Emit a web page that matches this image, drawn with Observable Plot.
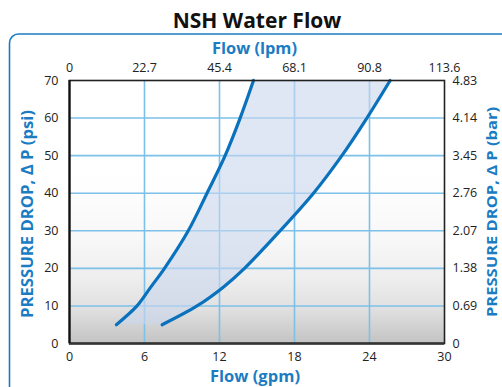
<!DOCTYPE html>
<html>
<head>
<meta charset="utf-8">
<script src="https://cdn.jsdelivr.net/npm/d3@7"></script>
<script src="https://cdn.jsdelivr.net/npm/@observablehq/plot@0.6"></script>
<style>
  html, body { margin: 0; padding: 0; background: #fff; }
  #chart svg { display: block; }
</style>
</head>
<body>
<div id="chart"></div>
<script>
// Pressure levels (psi) at which the curves were read
const psiLevels = [5, 10, 15, 20, 30, 40, 50, 60, 70];
// Flow (gpm) of the left (lower-bound) curve at each psi level
const leftGpm  = [3.75, 5.4, 6.5, 7.6, 9.5, 11.0, 12.45, 13.65, 14.72];
// Flow (gpm) of the right (upper-bound) curve at each psi level
const rightGpm = [7.41, 10.2, 12.3, 14.0, 16.85, 19.52, 21.79, 23.79, 25.65];

// Axis ticks
const gpmTicks = [0, 6, 12, 18, 24, 30];
const lpmLabels = ["0", "22.7", "45.4", "68.1", "90.8", "113.6"];
const psiTicks = [0, 10, 20, 30, 40, 50, 60, 70];
const barLabels = ["0", "0.69", "1.38", "2.07", "2.76", "3.45", "4.14", "4.83"];

const title = "NSH Water Flow";
const topLabel = "Flow (lpm)";
const bottomLabel = "Flow (gpm)";
const leftLabel = "PRESSURE DROP, \u0394 P (psi)";
const rightLabel = "PRESSURE DROP, \u0394 P (bar)";

const rows = psiLevels.map((p, i) => ({psi: p, left: leftGpm[i], right: rightGpm[i]}));

const BLUE = "#0a72bd";
const LABEL_BLUE = "#1b7cc4";
const GRID = "#7dc0e9";
const FONT = "'Open Sans', 'Noto Sans', sans-serif";

const W = 502, H = 387;
const mL = 69, mR = 58, mT = 80, mB = 44;

const chart = Plot.plot({
  width: W,
  height: H,
  marginLeft: mL,
  marginRight: mR,
  marginTop: mT,
  marginBottom: mB,
  style: {fontFamily: FONT, fontSize: "12.5px", color: "#222", background: "transparent"},
  x: {domain: [0, 30]},
  y: {domain: [0, 70]},
  marks: [
    Plot.frame({fill: "url(#bggrad)", stroke: "none"}),
    Plot.gridX(gpmTicks.slice(1, -1), {stroke: GRID, strokeOpacity: 1, strokeWidth: 1.6}),
    Plot.gridY(psiTicks.slice(1, -1), {stroke: GRID, strokeOpacity: 1, strokeWidth: 1.6}),
    Plot.areaX(rows, {y: "psi", x1: "left", x2: "right", fill: "#c9d7ef", fillOpacity: 0.6, curve: "catmull-rom"}),
    Plot.line(rows, {x: "left", y: "psi", stroke: BLUE, strokeWidth: 3.2, curve: "catmull-rom"}),
    Plot.line(rows, {x: "right", y: "psi", stroke: BLUE, strokeWidth: 3.2, curve: "catmull-rom"}),
    Plot.frame({stroke: "#222", strokeWidth: 1.6}),
    Plot.ruleY([0], {stroke: "#333", strokeWidth: 2.5}),
    Plot.ruleX([0], {stroke: "#111", strokeWidth: 2.2}),
    Plot.axisX(gpmTicks, {anchor: "bottom", tickSize: 0, tickPadding: 9, label: null}),
    Plot.axisX(gpmTicks, {anchor: "top", tickSize: 0, tickPadding: 9, label: null,
      tickFormat: (d) => lpmLabels[gpmTicks.indexOf(d)]}),
    Plot.axisY(psiTicks, {anchor: "left", tickSize: 0, tickPadding: 11, label: null}),
    Plot.axisY(psiTicks, {anchor: "right", tickSize: 0, tickPadding: 8, label: null,
      tickFormat: (d) => barLabels[psiTicks.indexOf(d)]})
  ]
});

const svg = d3.select(chart);
// gradient definition for the plot background
const defs = svg.insert("defs", ":first-child");
const grad = defs.append("linearGradient").attr("id", "bggrad")
  .attr("x1", 0).attr("y1", 0).attr("x2", 0).attr("y2", 1);
[[0, "#ffffff"], [0.35, "#ffffff"], [0.6, "#f8f8f8"], [0.75, "#eeeeee"], [0.87, "#e0e0e0"], [1, "#c3c3c3"]]
  .forEach(([o, c]) => grad.append("stop").attr("offset", o).attr("stop-color", c));

// outer rounded frame
svg.insert("rect", ":first-child")
  .attr("x", 9.5).attr("y", 34).attr("width", 520).attr("height", 400)
  .attr("rx", 9).attr("fill", "none").attr("stroke", LABEL_BLUE).attr("stroke-width", 1.6);

const g = svg.append("g").attr("font-family", FONT).attr("font-weight", "bold");
g.append("text").attr("x", 257).attr("y", 28).attr("text-anchor", "middle")
  .attr("font-size", 21).attr("fill", "#111").text(title);
g.append("text").attr("x", 254.5).attr("y", 54).attr("text-anchor", "middle")
  .attr("font-size", 16.5).attr("textLength", 85).attr("lengthAdjust", "spacingAndGlyphs")
  .attr("fill", LABEL_BLUE).text(topLabel);
g.append("text").attr("x", 255).attr("y", 382).attr("text-anchor", "middle")
  .attr("font-size", 16.5).attr("textLength", 90).attr("lengthAdjust", "spacingAndGlyphs")
  .attr("fill", LABEL_BLUE).text(bottomLabel);
g.append("text").attr("transform", "translate(33,214) rotate(-90)").attr("text-anchor", "middle")
  .attr("font-size", 16).attr("textLength", 208).attr("lengthAdjust", "spacingAndGlyphs")
  .attr("fill", LABEL_BLUE).text(leftLabel);
g.append("text").attr("transform", "translate(497,212) rotate(-90)").attr("text-anchor", "middle")
  .attr("font-size", 15).attr("textLength", 210).attr("lengthAdjust", "spacingAndGlyphs")
  .attr("fill", LABEL_BLUE).text(rightLabel);

document.getElementById("chart").appendChild(chart);
</script>
</body>
</html>
